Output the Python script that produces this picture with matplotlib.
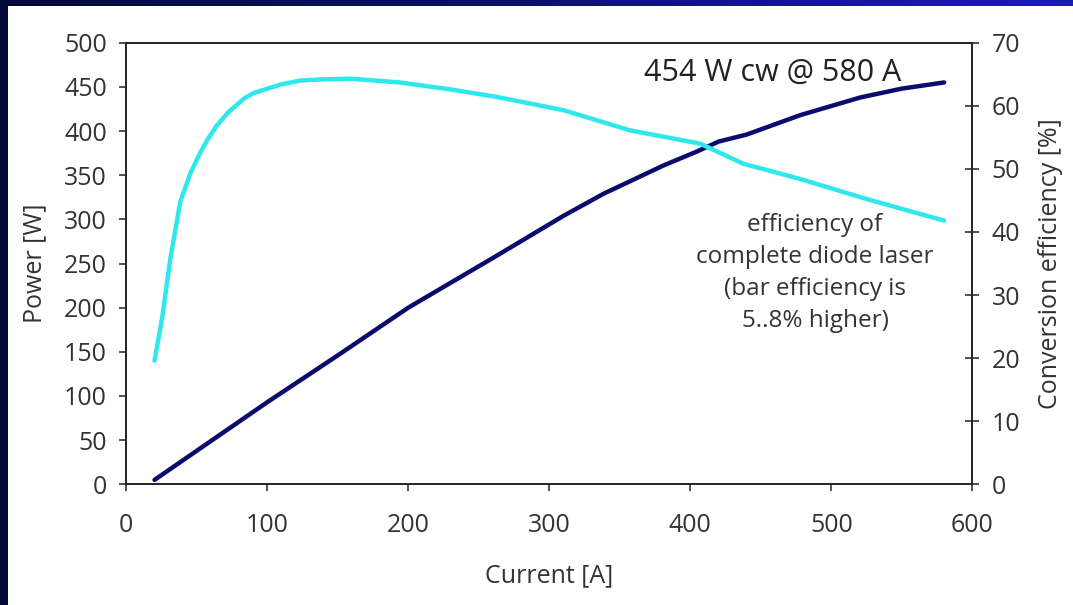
import numpy as np
import matplotlib
matplotlib.use('Agg')
import matplotlib.pyplot as plt

plt.rcParams['font.family'] = ['Open Sans', 'DejaVu Sans']

# Output power of the diode laser vs. drive current
current_p = [20, 60, 100, 150, 200, 262.9, 310.1, 338.5, 381, 405, 420, 440, 478, 520.6, 550, 580]
power = [5, 49, 93, 146, 200, 259, 304, 329, 361, 377, 388, 396, 418, 438, 448, 455]

# Conversion efficiency vs. current
current_e = [20, 25.3, 31.2, 38.3, 45.4, 52.5, 58, 64.3, 72, 83.2, 90, 99.8, 110, 123.4, 140,
             158.9, 194, 229.8, 262.9, 310.1, 357.4, 407, 437.8, 478, 525.3, 580]
efficiency = [19.6, 26.2, 35.7, 44.8, 49.3, 52.6, 54.8, 56.9, 58.9, 61.1, 62.0, 62.7, 63.4, 64.0, 64.2,
              64.3, 63.7, 62.6, 61.4, 59.3, 56.1, 54.0, 50.8, 48.4, 45.2, 41.8]

W, H = 1073, 605
fig = plt.figure(figsize=(W / 100, H / 100), dpi=100)

# slide frame: dark navy border with gradient on top
bg = fig.add_axes([0, 0, 1, 1])
bg.set_xlim(0, W)
bg.set_ylim(H, 0)
bg.axis('off')
grad = np.linspace(0, 1, 256)[None, :]
cmap = matplotlib.colors.LinearSegmentedColormap.from_list('frame', ['#020a3a', '#0a1270', '#1a1cb8'])
bg.imshow(grad, cmap=cmap, extent=[0, W, H, 0], aspect='auto')
bg.add_patch(plt.Rectangle((0, 0), 8, H, color='#020a3a', lw=0))
bg.add_patch(plt.Rectangle((8, 6), W - 8, H - 6, color='white', lw=0))

ax = fig.add_axes([126.3 / W, 1 - 484.3 / H, (972.3 - 126.3) / W, (484.3 - 42.7) / H])
ax2 = ax.twinx()

dark = '#0b0b6e'
cyan = '#2ee8ec'
ax.plot(current_p, power, color=dark, lw=3.2, solid_capstyle='round', solid_joinstyle='round', zorder=3)
ax2.plot(current_e, efficiency, color=cyan, lw=3.2, solid_capstyle='round', solid_joinstyle='round', zorder=3)

ax.set_xlim(0, 600)
ax.set_ylim(0, 500)
ax2.set_ylim(0, 70)
ax.set_xticks(range(0, 601, 100))
ax.set_yticks(range(0, 501, 50))
ax2.set_yticks(range(0, 71, 10))

tc = '#333333'
fs = 18
for a in (ax, ax2):
    for s in a.spines.values():
        s.set_color('#222222')
        s.set_linewidth(1.2)
ax.tick_params(axis='y', direction='out', length=5, width=1.2, pad=9, labelsize=fs, colors=tc)
ax.tick_params(axis='x', direction='out', length=5, width=1.2, pad=16, labelsize=fs, colors=tc)
ax2.tick_params(axis='y', direction='inout', length=10, width=1.2, pad=9, labelsize=fs, colors=tc)
for t in ax.get_xticklines() + ax.get_yticklines() + ax2.get_yticklines():
    t.set_color('#222222')

ax.set_xlabel('Current [A]', fontsize=fs, color=tc)
ax.set_ylabel('Power [W]', fontsize=fs, color=tc)
ax2.set_ylabel('Conversion efficiency [%]', fontsize=fs, color=tc)
ax.xaxis.set_label_coords(0.5, -0.178)
ax.yaxis.set_label_coords(-0.093, 0.5)
ax2.yaxis.set_label_coords(1.078, 0.5)

ax.text(367, 466, '454 W cw @ 580 A', fontsize=22, color='#222222', va='center', ha='left')
ax.text(488.4, 307, 'efficiency of\ncomplete diode laser\n(bar efficiency is\n5..8% higher)',
        fontsize=17.5, color='#333333', ha='center', va='top', linespacing=1.45)

fig.savefig('out.png', dpi=100)
